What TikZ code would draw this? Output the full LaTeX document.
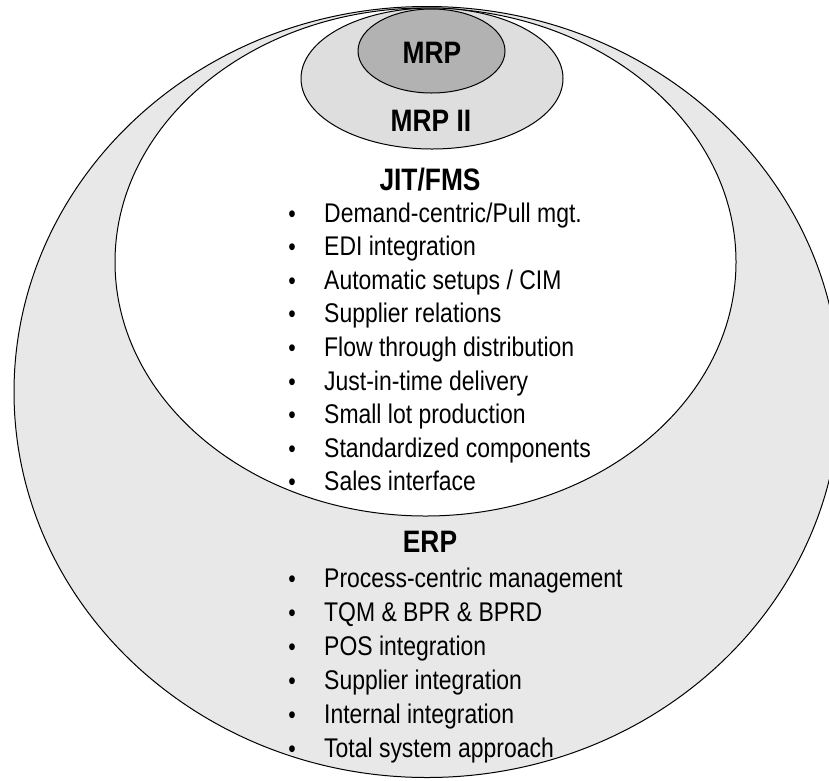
\documentclass[tikz,border=0pt]{standalone}
\usepackage{fontspec}
\setmainfont[FakeStretch=0.85]{Liberation Sans}
\begin{document}
\begin{tikzpicture}[x=1pt, y=-1pt,
  head/.style={font=\fontsize{31}{36}\selectfont\bfseries, anchor=base, inner sep=0},
  txt/.style={font=\fontsize{27}{32}\selectfont, anchor=base west, inner sep=0},
  dot/.style={font=\fontsize{25}{30}\selectfont, anchor=base, inner sep=0}]
\useasboundingbox (0,0) rectangle (829,780);
\draw[fill=black!9, line width=1pt](427,392) ellipse (413 and 385.5);
\draw[fill=white, line width=1pt](425.5,262) ellipse (310.5 and 254);
\draw[fill=black!13, line width=1pt](432,78.5) ellipse (131 and 70.5);
\draw[fill=black!30, line width=1pt](431.5,51) ellipse (73.5 and 42);

\node[head](mrp) at (432,63){MRP};
\node[head](mrpii) at (431,131){MRP II};
\node[head](jit) at (430,190){JIT/FMS};
\node[head](erp) at (430,552){ERP};

\foreach \t [count=\i from 0] in {Demand-centric/Pull mgt., EDI integration, Automatic setups / CIM, Supplier relations, Flow through distribution, Just-in-time delivery, Small lot production, Standardized components, Sales interface}{
  \node[dot](jd\i) at (292,222+33.6*\i){•};
  \node[txt](jt\i) at (324,222+33.6*\i){\t};
}
\foreach \t [count=\i from 0] in {Process-centric management, TQM \& BPR \& BPRD, POS integration, Supplier integration, Internal integration, Total system approach}{
  \node[dot](ed\i) at (292,587+34*\i){•};
  \node[txt](et\i) at (324,587+34*\i){\t};
}
\end{tikzpicture}
\end{document}
